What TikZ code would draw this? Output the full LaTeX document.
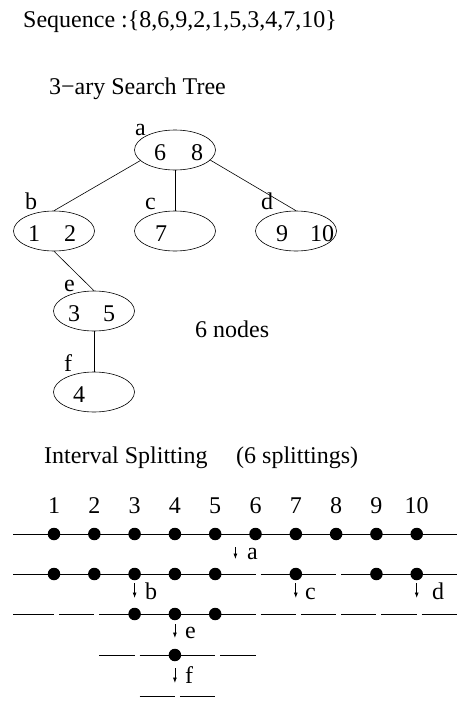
\documentclass[tikz,border=0pt]{standalone}
\usepackage{fontspec}
\setmainfont{Liberation Serif}
\usetikzlibrary{shapes.geometric,arrows.meta}
\begin{document}
\begin{tikzpicture}[x=1pt,y=-1pt,
  txt/.style={inner sep=0pt,font=\fontsize{24}{28}\selectfont},
  lbl/.style={txt,anchor=base west},
  num/.style={txt,anchor=base},
  tnode/.style={draw,ellipse,line width=0.6pt,minimum width=81pt,minimum height=40pt,inner sep=0pt},
  tedge/.style={line width=0.6pt},
  seg/.style={line width=0.9pt},
  keydot/.style={circle,fill,inner sep=0pt,minimum size=12.5pt},
  splitarrow/.style={line width=0.8pt,-{Latex[length=5.5pt,width=4pt]}}
]
\useasboundingbox (0,0) rectangle (471,709);

% titles
\node[lbl] (seq) at (23,28) {Sequence :\{8,6,9,2,1,5,3,4,7,10\}};
\node[lbl] (tt) at (49,94) {3−ary Search Tree};
\node[lbl] (nn) at (195,337) {6 nodes};
\node[lbl] (is) at (44,463) {Interval Splitting};
\node[lbl] (ns) at (236,463) {(6 splittings)};

% tree nodes
\node[tnode] (a) at (175,150) {};
\node[tnode] (b) at (54,231) {};
\node[tnode] (c) at (175,231) {};
\node[tnode] (d) at (296,231) {};
\node[tnode] (e) at (94,311) {};
\node[tnode] (f) at (94,392) {};

% node contents
\node[num] (a1) at (160,160) {6};
\node[num] (a2) at (197,160) {8};
\node[num] (b1) at (34,241) {1};
\node[num] (b2) at (70,241) {2};
\node[num] (c1) at (161,241) {7};
\node[num] (d1) at (282,241) {9};
\node[num] (d2) at (322,241) {10};
\node[num] (e1) at (74,321) {3};
\node[num] (e2) at (109,321) {5};
\node[num] (f1) at (79,402) {4};

% node names
\node[lbl] (la) at (135,135) {a};
\node[lbl] (lb) at (25,209) {b};
\node[lbl] (lc) at (145,209) {c};
\node[lbl] (ld) at (261,209) {d};
\node[lbl] (le) at (64,291) {e};
\node[lbl] (lf) at (64,371) {f};

% tree edges
\draw[tedge] (a.197) -- (b.north);
\draw[tedge] (a.south) -- (c.north);
\draw[tedge] (a.344) -- (d.north);
\draw[tedge] (b.south) -- (e.north);
\draw[tedge] (e.south) -- (f.north);

% key labels
\foreach \i/\x in {1/54,2/94.3,3/134.6,4/174.9,5/215.2,6/255.5,7/295.8,8/336.1,9/376.4,10/416.7}
  \node[num] (n\i) at (\x,513) {\i};

% row 1
\draw[seg] (13,534) -- (457,534);
\foreach \i/\x in {1/54,2/94.3,3/134.6,4/174.9,5/215.2,6/255.5,7/295.8,8/336.1,9/376.4,10/416.7}
  \node[keydot] (r1k\i) at (\x,534) {};

% row 2
\draw[seg] (13,574) -- (255.5,574) (260.5,574) -- (336.1,574) (341.1,574) -- (457,574);
\foreach \i/\x in {1/54,2/94.3,3/134.6,4/174.9,5/215.2,7/295.8,9/376.4,10/416.7}
  \node[keydot] (r2k\i) at (\x,574) {};

% row 3
\foreach \s/\t in {13/54,59/94.3,99.3/255.5,260.5/295.8,300.8/336.1,341.1/376.4,381.4/416.7,421.7/457}
  \draw[seg] (\s,614) -- (\t,614);
\foreach \i/\x in {3/134.6,4/174.9,5/215.2}
  \node[keydot] (r3k\i) at (\x,614) {};

% row 4
\foreach \s/\t in {99.3/134.6,139.6/215.2,220.2/255.5}
  \draw[seg] (\s,655) -- (\t,655);
\node[keydot] (r4k4) at (174.9,655) {};

% row 5
\foreach \s/\t in {139.6/174.9,179.9/215.2}
  \draw[seg] (\s,696) -- (\t,696);

% split arrows
\coordinate (sa0) at (235.4,547); \coordinate (sa1) at (235.4,559);
\coordinate (sb0) at (134.6,583); \coordinate (sb1) at (134.6,598);
\coordinate (sc0) at (295.8,583); \coordinate (sc1) at (295.8,598);
\coordinate (sd0) at (416.7,583); \coordinate (sd1) at (416.7,598);
\coordinate (se0) at (174.9,624); \coordinate (se1) at (174.9,638);
\coordinate (sf0) at (174.9,668); \coordinate (sf1) at (174.9,683);
\draw[splitarrow] (sa0) -- (sa1);
\draw[splitarrow] (sb0) -- (sb1);
\draw[splitarrow] (sc0) -- (sc1);
\draw[splitarrow] (sd0) -- (sd1);
\draw[splitarrow] (se0) -- (se1);
\draw[splitarrow] (sf0) -- (sf1);

\node[lbl] (ta) at (247,559) {a};
\node[lbl] (tb) at (145,599) {b};
\node[lbl] (tc) at (305,599) {c};
\node[lbl] (td) at (432,599) {d};
\node[lbl] (te) at (185,638) {e};
\node[lbl] (tf) at (185,683) {f};
\end{tikzpicture}
\end{document}
